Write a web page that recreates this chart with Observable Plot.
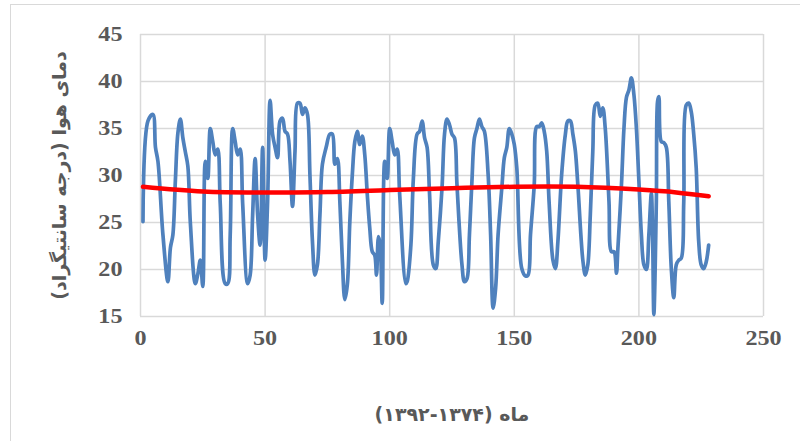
<!DOCTYPE html>
<html><head><meta charset="utf-8">
<script src="https://cdn.jsdelivr.net/npm/d3@7"></script>
<script src="https://cdn.jsdelivr.net/npm/@observablehq/plot@0.6"></script>
<style>
body{margin:0;background:#fff;}
#wrap{position:relative;width:800px;height:441px;overflow:hidden;background:#fff;}
#border{position:absolute;left:10px;top:4px;width:820px;height:480px;border:1.5px solid #d9d9d9;box-sizing:border-box;}
#chart{position:absolute;left:0;top:0;}
</style></head><body><div id="wrap"><div id="border"></div><div id="chart"></div></div>
<script>
const months = [1,3,5,6,7,9,11,12,13,14,15,16,17,18,19,20,22,23,24,25,26,27,28,29,30,31,32,34,35,36,37,38,39,40,41,43,44,45,46,47,48,49,50,51,52,53,54,55,56,57,58,59,60,61,62,63,64,65,66,67,68,69,70,71,72,73,74.5,76,77,78,79,80,81,82,83,84,85,86,87,88,89,90,91,92,93,94,94.7,95.5,96.2,97,98,99,100,101,102,103,104,106.5,107,108.5,109.5,111,112,113,114,115,116,117.5,118.5,119.5,121,122,123,124,125,126,127,129,130,131,132,133,134,135,136,137,138,139.5,140.5,141.5,142.5,143.5,145,146,147,148,149,150,151,153,154.5,155.5,156.5,158,159,160,161,162,163,164,165.5,166.5,167.5,169,170.5,171.5,172.5,173.5,174.5,175.5,177.5,178.5,179.5,180.5,181.5,182.5,183.5,184.5,185.5,186.5,188,189,190,191,191.5,193,194,195,196,197,198,199,200,201,202,203,204,205,205.5,206,207,207.5,208,209,210,211,212,213,214,215,216,217,218,219,220,221,222,223,224,225,226,227,228];
const temps = [25.1,35.8,36.5,33,31.5,23.7,18.7,22.3,23.7,29.5,34.5,36,34,32.5,31,25,18.5,19.5,21,18.2,31.5,29.7,35,33.6,32.2,32.8,27,18.5,18.5,23.7,35,33.6,32.2,32.8,27,18.5,19.4,25.8,31.8,25.8,22.6,33,21,27.2,38,34.4,33,31.9,35.8,36.1,34.7,34.4,31.5,26.7,32.6,37.7,37.7,36.5,37.2,36.5,30,23,19.4,20.5,25.8,31.2,33,34.4,34.4,31.2,31.8,27.2,21,16.8,18.4,25.1,30.1,33.6,34.7,33.3,34.2,32.2,28,24.4,21.9,21.5,19.4,23.5,22.5,16.4,31.5,29.7,35,33.6,32.2,32.8,28,18.5,18.7,22.6,29.7,34.4,34.7,35.8,34,33,28,20.5,20.1,23,28.7,34.4,36,35.4,34.4,34,29,20.5,18.7,19,23.7,29.4,34,35,36,35.2,34.7,30.1,23.7,15.9,18,23.7,28.7,31.9,33,35,34.4,33.3,30.8,20.1,19.3,19.4,23.7,29,35.2,35.2,35.6,34.7,32.6,27,21,20.1,23,30.1,34.4,35.8,35.8,34.4,32.6,29,21,19.4,20.5,25.8,32.6,37.5,37.7,36.3,37.2,35,27.2,21.9,21.9,19.6,21.9,29,35,38.3,39.1,40.4,38.6,35,29.4,23.7,20.5,20,23.7,28.1,23.7,15.2,27.2,37.9,38.4,33.6,33.5,33,27.2,20.1,17,20.5,21,21.2,27.2,37.5,37.7,36.8,34.4,30.8,23,20.5,20.1,20.8,22.6];
const trendMonths = [1,25,50,75,100,125,150,175,200,215,228];
const trendTemps = [28.8,28.3,28.2,28.25,28.45,28.65,28.8,28.8,28.5,28.2,27.8];
const xTicks = [0,50,100,150,200,250];
const yTicks = [15,20,25,30,35,40,45];
const yLabel = "دمای هوا (درجه سانتیگراد)";
const xLabel = "ماه (۱۳۷۴-۱۳۹۲)";

const series = months.map((m,i)=>({month:m, temp:temps[i]}));
const trend = trendMonths.map((m,i)=>({month:m, temp:trendTemps[i]}));

const chart = Plot.plot({
  width: 800, height: 441,
  marginLeft: 140, marginRight: 37, marginTop: 34, marginBottom: 125,
  style: {fontFamily: "Liberation Serif", fontSize: "21px", fontWeight: "bold", color: "#595959", background: "transparent"},
  x: {domain: [0,250], ticks: xTicks, tickSize: 0, tickPadding: 14, label: xLabel, labelAnchor: "center", labelArrow: "none", labelOffset: 104},
  y: {domain: [15,45], ticks: yTicks, tickSize: 0, tickPadding: 18, label: yLabel, labelAnchor: "center", labelArrow: "none", labelOffset: 88},
  marks: [
    Plot.gridX(xTicks, {stroke: "#d9d9d9", strokeOpacity: 1, strokeWidth: 1.5}),
    Plot.gridY(yTicks, {stroke: "#d9d9d9", strokeOpacity: 1, strokeWidth: 1.5}),
    Plot.line(series, {x: "month", y: "temp", stroke: "#4f81bd", strokeWidth: 3.7, curve: "catmull-rom"}),
    Plot.line(trend, {x: "month", y: "temp", stroke: "#ff0000", strokeWidth: 4.5, curve: "natural"})
  ]
});
document.getElementById("chart").appendChild(chart);
chart.querySelectorAll('g[aria-label="y-axis tick label"] text, g[aria-label="x-axis tick label"] text').forEach(t => {
  const tr = t.getAttribute("transform") || "";
  t.setAttribute("transform", tr + " scale(1.15,1)");
});
chart.querySelectorAll('g[aria-label="y-axis label"] text, g[aria-label="x-axis label"] text').forEach(t => {
  t.setAttribute("direction", "rtl");
  t.style.direction = "rtl";
  t.setAttribute("font-family", "DejaVu Sans");
  t.setAttribute("font-size", "19px");
  t.setAttribute("font-weight", "bold");
});
</script></body></html>
